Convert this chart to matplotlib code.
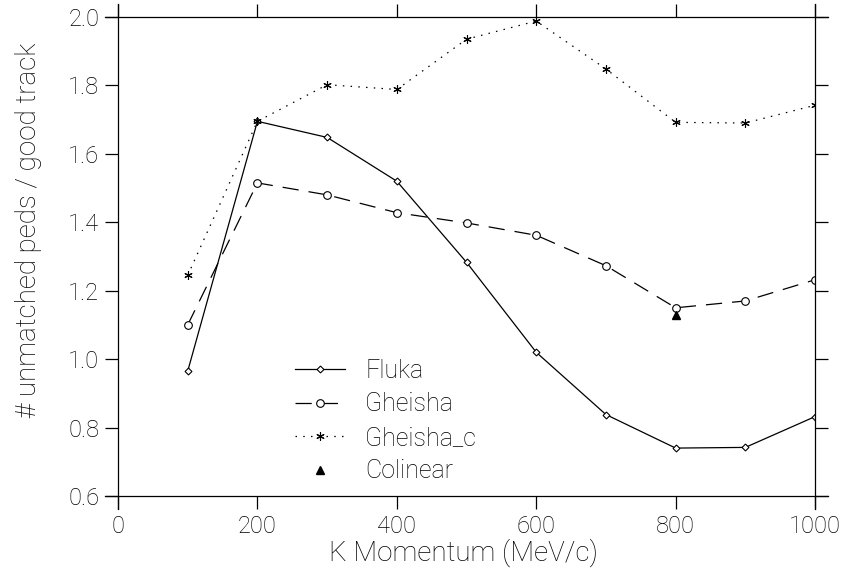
# unmatched peds per good track vs K momentum
import numpy as np
import matplotlib.pyplot as plt

momentum = [100, 200, 300, 400, 500, 600, 700, 800, 900, 1000]
fluka = [0.965, 1.695, 1.648, 1.52, 1.283, 1.02, 0.838, 0.74, 0.742, 0.832]
gheisha = [1.10, 1.515, 1.48, 1.428, 1.398, 1.362, 1.273, 1.15, 1.17, 1.232]
gheisha_c = [1.245, 1.695, 1.802, 1.788, 1.935, 1.988, 1.848, 1.692, 1.69, 1.742]
colinear_x = [800]
colinear_y = [1.13]

plt.rcParams['font.family'] = ['Roboto', 'DejaVu Sans']
plt.rcParams['font.weight'] = 'light'
plt.rcParams['axes.labelweight'] = 'light'
fig = plt.figure(figsize=(8.46, 5.73), dpi=100)
ax = fig.add_axes([0.1395, 0.1344, 0.8239, 0.836])

ax.plot(momentum, fluka, '-', color='black', lw=0.9, marker='D', ms=3.5,
        mfc='white', mec='black', mew=0.8, label='Fluka')
ax.plot(momentum, gheisha, color='black', lw=0.9, dashes=(13, 8), marker='o', ms=5.5,
        mfc='white', mec='black', mew=0.8, label='Gheisha')
ax.plot(momentum, gheisha_c, color='black', lw=0.9, dashes=(1.2, 5), marker=(6, 2, 0), ms=6,
        mec='black', mew=0.8, label='Gheisha_c')
ax.plot(colinear_x, colinear_y, ls='none', marker='^', ms=6, color='black', label='Colinear')

ax.set_xlim(0, 1000)
ax.set_ylim(0.6, 2.0)
ax.set_xticks(np.arange(0, 1001, 200))
ax.set_yticks(np.arange(0.6, 2.01, 0.2))
ax.set_yticklabels(['%.1f' % v for v in np.arange(0.6, 2.01, 0.2)])

for side in ['left', 'right', 'top', 'bottom']:
    ax.spines[side].set_linewidth(0.9)
ax.spines['bottom'].set_bounds(-19, 1019)
ax.spines['top'].set_bounds(-19, 1019)
ax.spines['left'].set_bounds(0.562, 2.038)
ax.spines['right'].set_bounds(0.562, 2.038)

ax.tick_params(direction='out', length=9.5, width=0.9, labelsize=17,
               top=True, right=True, labeltop=False, labelright=False, pad=4)

ax.set_xlabel('K Momentum (MeV/c)', fontsize=20)
ax.set_ylabel('# unmatched peds / good track', fontsize=20)
ax.xaxis.set_label_coords(0.496, -0.088)
ax.yaxis.set_label_coords(-0.109, 0.555)

ax.legend(loc='upper left', bbox_to_anchor=(0.254, 0.286), frameon=False, fontsize=18,
          borderpad=0, borderaxespad=0, handlelength=2.0, numpoints=1,
          labelspacing=0.38, handletextpad=0.8)

plt.savefig('out.png', dpi=100)
